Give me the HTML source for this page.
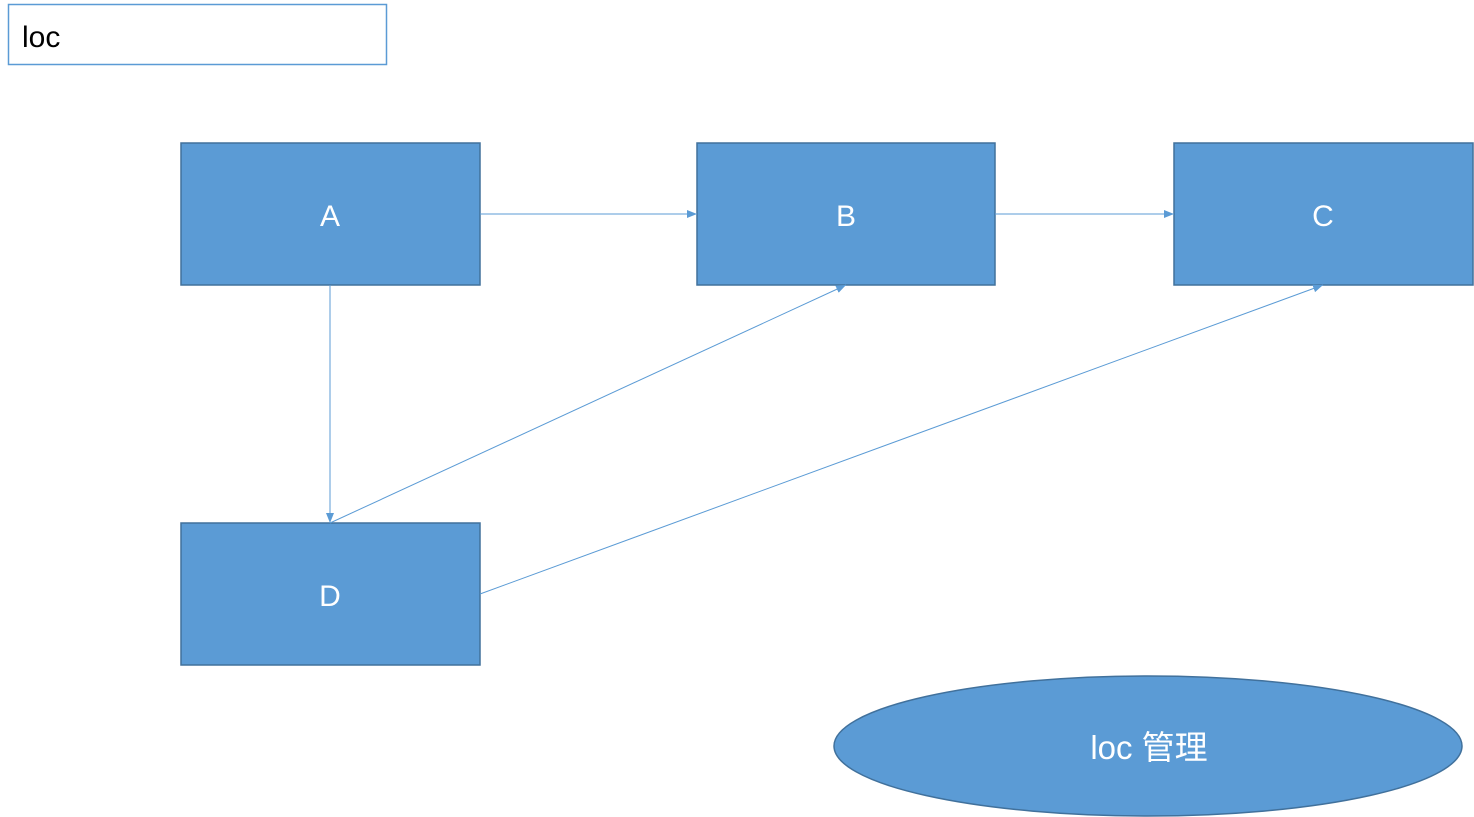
<!DOCTYPE html>
<html><head><meta charset="utf-8"><style>
html,body{margin:0;padding:0;background:#fff;}
body{width:1474px;height:817px;position:relative;overflow:hidden;font-family:"Liberation Sans","Noto Sans CJK SC",sans-serif;}
</style></head><body>
<svg width="1474" height="817" xmlns="http://www.w3.org/2000/svg" style="position:absolute;left:0;top:0">
<defs><marker id="ar" markerWidth="10" markerHeight="8" refX="10" refY="4" orient="auto" markerUnits="userSpaceOnUse"><path d="M0,0 L10,4 L0,8 z" fill="#5B9BD5"/></marker></defs>
<rect x="8.5" y="4.5" width="378" height="60" fill="#fff" stroke="#5B9BD5" stroke-width="1.5"/>
<text x="22" y="47" font-size="30" font-family="Liberation Sans,sans-serif" fill="#000">loc</text>
<g fill="#5B9BD5" stroke="#41719C" stroke-width="1.5">
<rect x="181" y="143" width="299" height="142"/>
<rect x="697" y="143" width="298" height="142"/>
<rect x="1174" y="143" width="299" height="142"/>
<rect x="181" y="523" width="299" height="142"/>
<ellipse cx="1148" cy="746" rx="314" ry="70"/>
</g>
<g stroke="#5B9BD5" stroke-width="1" fill="none" marker-end="url(#ar)">
<line x1="480" y1="214" x2="697" y2="214"/>
<line x1="995" y1="214" x2="1174" y2="214"/>
<line x1="330" y1="285" x2="330" y2="523"/>
<line x1="330" y1="523" x2="846" y2="285"/>
<line x1="480" y1="594" x2="1323" y2="285"/>
</g>
<g fill="#fff" font-size="30" text-anchor="middle" font-family="Liberation Sans,sans-serif">
<text x="330" y="226">A</text>
<text x="846" y="226">B</text>
<text x="1323" y="226">C</text>
<text x="330" y="606">D</text>
<text x="1149" y="759" font-size="33" font-family="Liberation Sans,'Noto Sans CJK SC',sans-serif">loc 管理</text>
</g>
</svg>
</body></html>
